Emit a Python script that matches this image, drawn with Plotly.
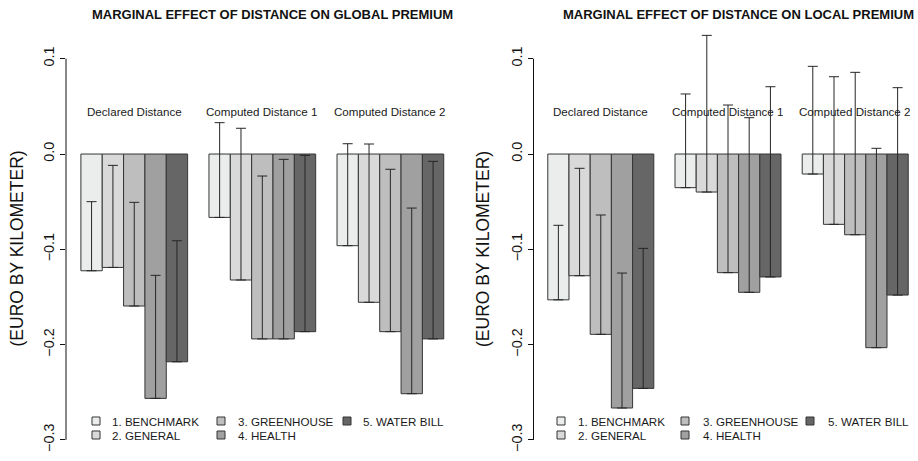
import plotly.graph_objects as go

W, H = 918, 461

groups = ["Declared Distance", "Computed Distance 1", "Computed Distance 2"]
series = ["1. BENCHMARK", "2. GENERAL", "3. GREENHOUSE", "4. HEALTH", "5. WATER BILL"]
colors = ["#ebecec", "#d9d9d9", "#bebebe", "#a0a0a0", "#666666"]
y_ticks = [-0.3, -0.2, -0.1, 0.0, 0.1]

# GLOBAL PREMIUM: marginal effects (bar) and upper confidence bound (error bar cap)
global_benchmark = [-0.1225, -0.0665, -0.0962]
global_general = [-0.1190, -0.1322, -0.1556]
global_greenhouse = [-0.1595, -0.1940, -0.1864]
global_health = [-0.2564, -0.1940, -0.2515]
global_water = [-0.2180, -0.1864, -0.1940]

global_benchmark_up = [-0.0500, 0.0329, 0.0108]
global_general_up = [-0.0119, 0.0270, 0.0105]
global_greenhouse_up = [-0.0507, -0.0231, -0.0160]
global_health_up = [-0.1273, -0.0056, -0.0567]
global_water_up = [-0.0910, -0.0014, -0.0077]

# LOCAL PREMIUM
local_benchmark = [-0.1530, -0.0353, -0.0210]
local_general = [-0.1277, -0.0399, -0.0738]
local_greenhouse = [-0.1892, -0.1245, -0.0847]
local_health = [-0.2665, -0.1451, -0.2032]
local_water = [-0.2459, -0.1290, -0.1480]

local_benchmark_up = [-0.0748, 0.0630, 0.0920]
local_general_up = [-0.0150, 0.1245, 0.0811]
local_greenhouse_up = [-0.0640, 0.0514, 0.0857]
local_health_up = [-0.1249, 0.0381, 0.0060]
local_water_up = [-0.0990, 0.0706, 0.0696]

panels = [
    dict(title="MARGINAL EFFECT OF DISTANCE ON GLOBAL PREMIUM",
         means=[global_benchmark, global_general, global_greenhouse, global_health, global_water],
         ups=[global_benchmark_up, global_general_up, global_greenhouse_up, global_health_up, global_water_up]),
    dict(title="MARGINAL EFFECT OF DISTANCE ON LOCAL PREMIUM",
         means=[local_benchmark, local_general, local_greenhouse, local_health, local_water],
         ups=[local_benchmark_up, local_general_up, local_greenhouse_up, local_health_up, local_water_up]),
]

FONT = "Liberation Sans, Arial, Helvetica, sans-serif"


def px(x):
    return x / W


def py(y):
    return 1 - y / H


# layout geometry (pixels)
geo = [
    dict(axis_x=66, right=458, xrange=[-0.533, 2.528], title_x=272.5, ytitle_x=16.5,
         leg_mark=[96, 221, 347], leg_text=[110, 236, 361]),
    dict(axis_x=533.5, right=915, xrange=[-0.529, 2.47], title_x=738, ytitle_x=483,
         leg_mark=[561, 685, 810], leg_text=[576, 701, 826]),
]
yrange = [-0.3221, 0.1616]

fig = go.Figure()
annotations = []
shapes = []

for p, (panel, g) in enumerate(zip(panels, geo)):
    xa = "x" if p == 0 else "x2"
    ya = "y" if p == 0 else "y2"
    for i, name in enumerate(series):
        mean = panel["means"][i]
        up = panel["ups"][i]
        fig.add_trace(go.Bar(
            x=groups, y=mean, name=name, xaxis=xa, yaxis=ya, showlegend=False,
            marker=dict(color=colors[i], line=dict(color="#353535", width=1)),
            error_y=dict(type="data", symmetric=False,
                         array=[u - m for u, m in zip(up, mean)],
                         arrayminus=[0] * len(mean),
                         color="#262626", thickness=1, width=5),
        ))
    # group labels
    for gname in groups:
        annotations.append(dict(x=gname, y=0.0451, xref=xa, yref=ya, text=gname,
                                showarrow=False, font=dict(family=FONT, size=11.6, color="#1a1a1a"),
                                xanchor="center", yanchor="middle"))
    # panel title
    annotations.append(dict(x=px(g["title_x"]), y=py(15), xref="paper", yref="paper",
                            text=panel["title"], showarrow=False,
                            font=dict(family=FONT, size=13, color="#111", weight="bold"),
                            xanchor="center", yanchor="middle"))
    # y axis title
    annotations.append(dict(x=px(g["ytitle_x"]), y=py(249), xref="paper", yref="paper",
                            text="(EURO BY KILOMETER)", showarrow=False, textangle=-90,
                            font=dict(family=FONT, size=17.5, color="#111"),
                            xanchor="center", yanchor="middle"))
    # R style axis line from -0.3 to 0.1
    shapes.append(dict(type="line", xref="paper", yref=ya, x0=px(g["axis_x"]), x1=px(g["axis_x"]),
                       y0=y_ticks[0], y1=y_ticks[-1], line=dict(color="#111", width=1)))
    # legend (column-major, as in the original)
    for i, name in enumerate(series):
        col, row = i // 2, i % 2
        yc = [421, 435][row]
        xm = g["leg_mark"][col]
        shapes.append(dict(type="rect", xref="paper", yref="paper",
                           x0=px(xm - 4), x1=px(xm + 4), y0=py(yc + 4), y1=py(yc - 4),
                           fillcolor=colors[i], line=dict(color="#353535", width=1)))
        annotations.append(dict(x=px(g["leg_text"][col]), y=py(yc), xref="paper", yref="paper",
                                text=name, showarrow=False, xanchor="left", yanchor="middle",
                                font=dict(family=FONT, size=11.6, color="#1a1a1a")))

axis_common_x = dict(type="category", showticklabels=False, showgrid=False, zeroline=False,
                     showline=False, ticks="")
axis_common_y = dict(range=yrange, tickvals=y_ticks, tickformat=".1f", tickangle=-90,
                     ticks="outside", ticklen=5, tickcolor="#111", tickwidth=1,
                     showgrid=False, zeroline=False, showline=False,
                     tickfont=dict(family=FONT, size=14.4, color="#111"), domain=[0, 1])

fig.update_layout(
    width=W, height=H,
    margin=dict(l=0, r=0, t=0, b=0),
    paper_bgcolor="white", plot_bgcolor="white",
    barmode="group", bargap=1 / 6, bargroupgap=0,
    xaxis=dict(domain=[px(geo[0]["axis_x"]), px(geo[0]["right"])], range=geo[0]["xrange"],
               anchor="y", **axis_common_x),
    xaxis2=dict(domain=[px(geo[1]["axis_x"]), px(geo[1]["right"])], range=geo[1]["xrange"],
                anchor="y2", **axis_common_x),
    yaxis=dict(anchor="x", **axis_common_y),
    yaxis2=dict(anchor="x2", **axis_common_y),
    annotations=annotations,
    shapes=shapes,
    font=dict(family=FONT),
)

fig.write_html("out.html")
